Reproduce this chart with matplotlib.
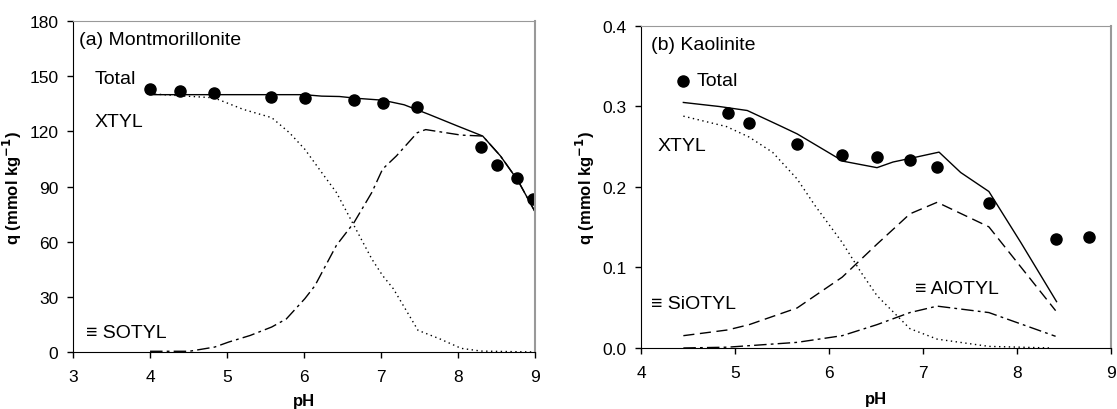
import matplotlib
matplotlib.use("Agg")
import matplotlib.pyplot as plt
from matplotlib.ticker import FormatStrFormatter

plt.rcParams['font.family'] = ['Liberation Sans', 'DejaVu Sans']

# (a) montmorillonite: measured points
ph_a = [4.0, 4.39, 4.83, 5.57, 6.01, 6.65, 7.02, 7.47, 8.30, 8.50, 8.76, 8.97]
q_a = [143.2, 142.0, 141.0, 138.9, 138.0, 137.1, 135.6, 133.1, 111.4, 101.8, 94.9, 83.2]

# (a) model curves
ph_a_tot = [4.0, 4.5, 5.0, 5.5, 6.0, 6.23, 6.46, 6.69, 7.02, 7.30, 7.62, 7.99, 8.32, 8.55, 8.78, 9.0]
q_a_tot = [140.0, 140.0, 140.0, 140.0, 140.0, 139.2, 139.0, 138.0, 137.0, 134.5, 129.3, 123.0, 117.5, 106.7, 93.1, 76.3]
ph_a_x = [4.0, 4.47, 4.83, 5.21, 5.58, 5.81, 6.01, 6.23, 6.42, 6.65, 6.88, 7.02, 7.16, 7.48, 7.76, 8.04, 8.3, 9.0]
q_a_x = [140.5, 139.2, 138.3, 132.0, 127.5, 119.3, 110.3, 97.6, 86.8, 68.7, 50.6, 41.6, 34.4, 11.8, 7.2, 2.0, 0.5, 0.0]
ph_a_s = [4.0, 4.51, 4.84, 5.02, 5.30, 5.58, 5.77, 6.01, 6.14, 6.42, 6.65, 6.88, 7.02, 7.20, 7.47, 7.58, 8.04, 8.32, 8.55, 8.78, 9.0]
q_a_s = [0.4, 0.4, 2.7, 5.4, 9.0, 13.6, 18.0, 29.0, 36.0, 58.0, 70.5, 86.8, 99.5, 106.7, 119.3, 121.0, 118.0, 117.5, 106.7, 93.1, 76.3]

# (b) kaolinite: measured points
ph_b = [4.45, 4.92, 5.15, 5.66, 6.14, 6.51, 6.86, 7.15, 7.70, 8.41, 8.76]
q_b = [0.332, 0.292, 0.279, 0.253, 0.240, 0.2375, 0.233, 0.225, 0.180, 0.135, 0.138]

# (b) model curves
ph_b_tot = [4.45, 4.83, 5.13, 5.47, 5.66, 6.15, 6.51, 6.68, 6.91, 7.17, 7.40, 7.70, 8.04, 8.42]
q_b_tot = [0.305, 0.300, 0.295, 0.2765, 0.266, 0.232, 0.224, 0.231, 0.2367, 0.2433, 0.218, 0.1944, 0.131, 0.0576]
ph_b_x = [4.45, 4.91, 5.15, 5.40, 5.66, 5.85, 6.14, 6.34, 6.51, 6.86, 7.15, 7.70, 8.37]
q_b_x = [0.288, 0.275, 0.262, 0.243, 0.210, 0.177, 0.131, 0.094, 0.065, 0.024, 0.011, 0.002, 0.0]
ph_b_si = [4.45, 4.92, 5.15, 5.66, 6.14, 6.51, 6.86, 7.15, 7.70, 8.41]
q_b_si = [0.0153, 0.0224, 0.029, 0.0497, 0.088, 0.129, 0.1666, 0.181, 0.1505, 0.0464]
ph_b_al = [4.45, 4.92, 5.66, 6.14, 6.51, 6.86, 7.15, 7.70, 8.41]
q_b_al = [0.0, 0.001, 0.007, 0.0153, 0.029, 0.044, 0.052, 0.044, 0.0145]

fig = plt.figure(figsize=(11.17, 4.1), dpi=100)
ax1 = fig.add_axes([0.0654, 0.139, 0.4136, 0.807])
ax2 = fig.add_axes([0.5739, 0.1488, 0.4208, 0.7854])

lw = 1.0
dotted = (0, (1, 2.5))
dashed = (0, (8, 4))
dashdot = (0, (9, 3, 2, 3))
fs = 14

ax1.plot(ph_a_tot, q_a_tot, color='black', lw=lw)
ax1.plot(ph_a_x, q_a_x, color='black', lw=lw, linestyle=dotted)
ax1.plot(ph_a_s, q_a_s, color='black', lw=lw, linestyle=dashdot)
ax1.plot(ph_a, q_a, 'o', color='black', ms=8)
ax1.set_xlim(3, 9)
ax1.set_ylim(0, 180)
ax1.set_xticks(range(3, 10))
ax1.set_yticks(range(0, 181, 30))
ax1.text(3.08, 170, '(a) Montmorillonite', fontsize=fs, va='center')
ax1.text(3.28, 148.8, 'Total', fontsize=fs, va='center')
ax1.text(3.28, 125.3, 'XTYL', fontsize=fs, va='center')
ax1.text(3.17, 10.8, '≡ SOTYL', fontsize=fs, va='center')

ax2.plot(ph_b_tot, q_b_tot, color='black', lw=lw)
ax2.plot(ph_b_x, q_b_x, color='black', lw=lw, linestyle=dotted)
ax2.plot(ph_b_si, q_b_si, color='black', lw=lw, linestyle=dashed)
ax2.plot(ph_b_al, q_b_al, color='black', lw=lw, linestyle=dashdot)
ax2.plot(ph_b, q_b, 'o', color='black', ms=8)
ax2.set_xlim(4, 9)
ax2.set_ylim(0, 0.4)
ax2.set_xticks(range(4, 10))
ax2.set_yticks([0.0, 0.1, 0.2, 0.3, 0.4])
ax2.yaxis.set_major_formatter(FormatStrFormatter('%.1f'))
ax2.text(4.11, 0.377, '(b) Kaolinite', fontsize=fs, va='center')
ax2.text(4.59, 0.332, 'Total', fontsize=fs, va='center')
ax2.text(4.18, 0.252, 'XTYL', fontsize=fs, va='center')
ax2.text(4.11, 0.0547, '≡ SiOTYL', fontsize=fs, va='center')
ax2.text(6.91, 0.0742, '≡ AlOTYL', fontsize=fs, va='center')

for ax, xpad in ((ax1, 6), (ax2, 8)):
    ax.set_xlabel('pH', fontsize=12, fontweight='bold', labelpad=xpad)
    ax.set_ylabel('q (mmol kg$^{\\mathbf{-1}}$)', fontsize=12, fontweight='bold', labelpad=4)
    ax.tick_params(direction='out', length=4.5, width=1, labelsize=12.5)
    ax.tick_params(axis='x', pad=8)
    ax.tick_params(axis='y', pad=6)
    ax.spines['left'].set_color('black')
    ax.spines['bottom'].set_color('black')
    ax.spines['top'].set_color('#999999')
    ax.spines['right'].set_color('#999999')
    ax.spines['right'].set_linewidth(1.5)

fig.savefig('out.png', dpi=100)
